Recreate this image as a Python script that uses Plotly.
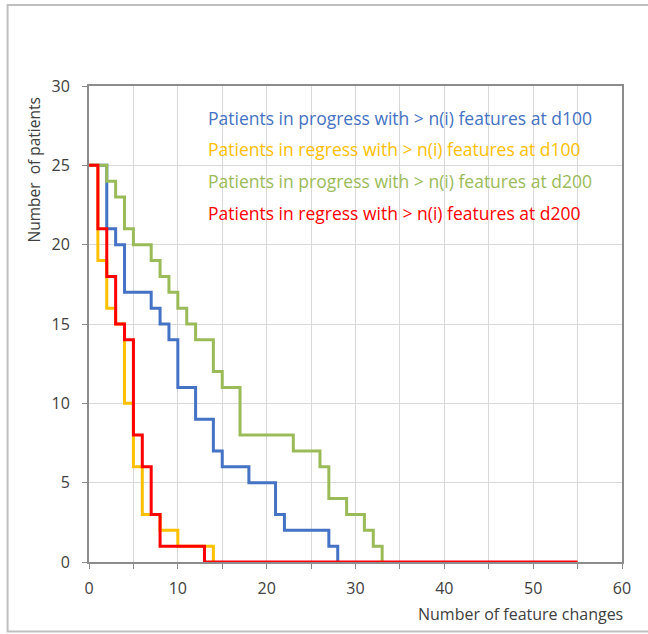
import plotly.graph_objects as go

# Data (step functions): x = number of feature changes, y = number of patients
prog_d100_x = [0, 2, 3, 4, 7, 8, 9, 10, 12, 14, 15, 18, 21, 22, 27, 28]
prog_d100_y = [25, 21, 20, 17, 16, 15, 14, 11, 9, 7, 6, 5, 3, 2, 1, 0]

reg_d100_x = [0, 1, 2, 3, 4, 5, 6, 8, 10, 14]
reg_d100_y = [25, 19, 16, 15, 10, 6, 3, 2, 1, 0]

prog_d200_x = [0, 2, 3, 4, 5, 7, 8, 9, 10, 11, 12, 14, 15, 17, 23, 26, 27, 29, 31, 32, 33]
prog_d200_y = [25, 24, 23, 21, 20, 19, 18, 17, 16, 15, 14, 12, 11, 8, 7, 6, 4, 3, 2, 1, 0]

reg_d200_x = [0, 1, 2, 3, 4, 5, 6, 7, 8, 13, 55]
reg_d200_y = [25, 21, 18, 15, 14, 8, 6, 3, 1, 0, 0]

names = [
    "Patients in progress with > n(i) features at d100",
    "Patients in regress with > n(i) features at d100",
    "Patients in progress with > n(i) features at d200",
    "Patients in regress with > n(i) features at d200",
]
colors = ["#4472C4", "#FFC000", "#9BBB59", "#FF0000"]

series = [
    (prog_d100_x, prog_d100_y),
    (reg_d100_x, reg_d100_y),
    (prog_d200_x, prog_d200_y),
    (reg_d200_x, reg_d200_y),
]

FONT = "'Open Sans', Lato, sans-serif"

fig = go.Figure()
for (xs, ys), nm, c in zip(series, names, colors):
    fig.add_trace(go.Scatter(
        x=xs, y=ys, mode="lines", name=nm,
        line=dict(color=c, width=3, shape="hv"),
        showlegend=False,
    ))

# Text legend inside the plot
legend_y = [28, 26, 24, 22]
for nm, c, yy in zip(names, colors, legend_y):
    fig.add_annotation(
        x=13.2, y=yy, xref="x", yref="y", text=nm, showarrow=False,
        xanchor="left", yanchor="middle",
        font=dict(family=FONT, size=17.5, color=c),
    )

# Axis titles (Excel-like placement)
fig.add_annotation(
    x=(33 - 88.5) / 533.5, y=(562.5 - 170) / 476.5, xref="paper", yref="paper",
    text="Number  of patients", showarrow=False, textangle=-90,
    xanchor="center", yanchor="middle",
    font=dict(family=FONT, size=15.5, color="#404040"),
)
fig.add_annotation(
    x=(625 - 88.5) / 533.5, y=(562.5 - 615) / 476.5, xref="paper", yref="paper",
    text="Number of feature changes", showarrow=False,
    xanchor="right", yanchor="middle",
    font=dict(family=FONT, size=16, color="#404040"),
)

# Outer chart frame
fig.add_shape(
    type="rect", xref="paper", yref="paper",
    x0=(7 - 88.5) / 533.5, x1=(660 - 88.5) / 533.5,
    y0=(562.5 - 632) / 476.5, y1=1 + (86 - 5) / 476.5,
    line=dict(color="#BFBFBF", width=2), layer="below",
)

axis_line = "#8C8C8C"
fig.update_xaxes(
    range=[0, 60], dtick=10, tick0=0,
    showgrid=True, gridcolor="#D9D9D9", gridwidth=1,
    minor=dict(dtick=5, showgrid=True, gridcolor="#D9D9D9", ticks="outside",
               ticklen=5, tickcolor=axis_line),
    ticks="outside", ticklen=5, tickcolor=axis_line,
    showline=True, linecolor=axis_line, linewidth=2, mirror=True,
    zeroline=False, ticklabelstandoff=6,
    tickfont=dict(family=FONT, size=16, color="#404040"),
)
fig.update_yaxes(
    range=[0, 30], dtick=5, tick0=0,
    showgrid=True, gridcolor="#D9D9D9", gridwidth=1,
    ticks="outside", ticklen=5, tickcolor=axis_line,
    showline=True, linecolor=axis_line, linewidth=2, mirror=True,
    zeroline=False, ticklabelstandoff=9,
    tickfont=dict(family=FONT, size=16, color="#404040"),
)

fig.update_layout(
    width=648, height=634,
    margin=dict(l=88.5, r=26, t=86, b=71.5, autoexpand=False),
    paper_bgcolor="white", plot_bgcolor="white",
    showlegend=False,
)

fig.write_html("out.html")
